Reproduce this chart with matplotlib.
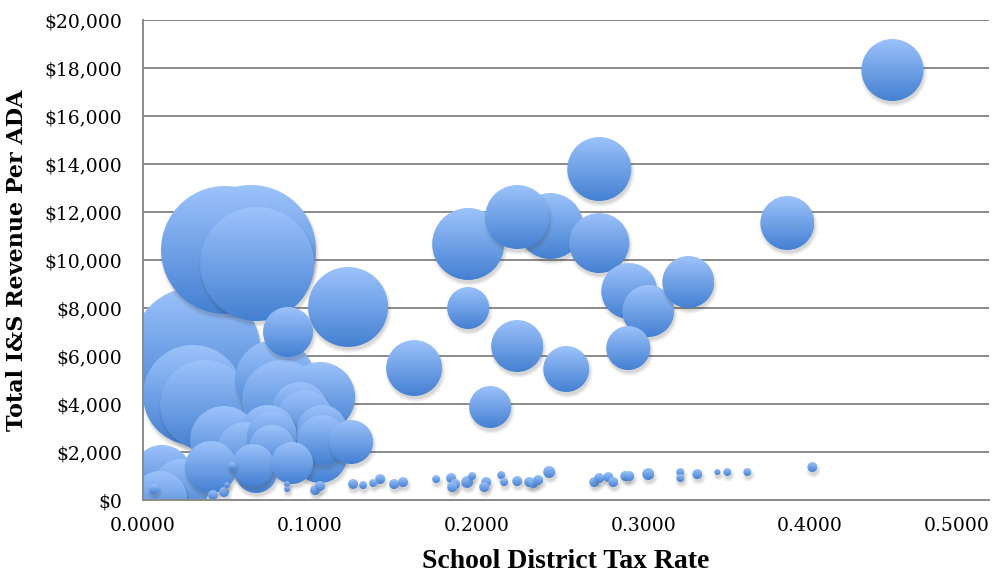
import numpy as np
import matplotlib
matplotlib.use("Agg")
from matplotlib import pyplot as plt
from matplotlib.patches import Circle
from matplotlib.colors import LinearSegmentedColormap
from matplotlib.ticker import StrMethodFormatter
from matplotlib.transforms import ScaledTranslation

# tax rate, I&S revenue per ADA, bubble size (ADA)
tax_rate = [
    0.0492, 0.0648, 0.0684, 0.1230, 0.0870, 0.0318, 0.0300, 0.0372, 0.0792, 0.0834,
    0.1062, 0.0942, 0.0972, 0.0486, 0.0750, 0.0612, 0.0774, 0.0774, 0.1074, 0.1074,
    0.1062, 0.1248, 0.0114, 0.0228, 0.0102, 0.0408, 0.0678, 0.0660, 0.0894,
    0.0066, 0.0534, 0.0420, 0.0486, 0.0504, 0.0864, 0.0864, 0.1032, 0.1062, 0.1260,
    0.1320, 0.1380, 0.1422, 0.1506, 0.1560, 0.1758, 0.1848, 0.1872, 0.1854, 0.1944,
    0.1974, 0.2058, 0.2046, 0.2148, 0.2166, 0.2244, 0.2316, 0.2340, 0.2370, 0.2436,
    0.2706, 0.2736, 0.2790, 0.2820, 0.2892, 0.2916, 0.3030, 0.3222, 0.3222, 0.3324,
    0.3444, 0.3504, 0.3624, 0.4014,
    0.2736, 0.2244, 0.2442, 0.1950, 0.2736, 0.2916, 0.3030, 0.3270, 0.1950, 0.2244,
    0.2538, 0.2910, 0.1626, 0.2082, 0.4494, 0.3864,
]
revenue = [
    10417, 10417, 9833, 8042, 7000, 6167, 4375, 3958, 5000, 4167,
    4292, 3750, 3417, 2500, 2792, 2083, 2667, 2167, 2917, 2500,
    1833, 2417, 1042, 542, 83, 1375, 1167, 1458, 1542,
    458, 1417, 208, 333, 625, 667, 458, 417, 583, 667,
    625, 708, 875, 667, 750, 875, 917, 667, 542, 750,
    1000, 750, 542, 1042, 750, 792, 750, 708, 833, 1167,
    750, 917, 958, 750, 1000, 1000, 1083, 1167, 917, 1083,
    1167, 1167, 1167, 1375,
    13792, 11792, 11417, 10667, 10708, 8708, 7875, 9083, 8000, 6417,
    5458, 6333, 5500, 3875, 17917, 11542,
]
ada = [
    43630, 45000, 34600, 17040, 6660, 45000, 26630, 21570, 17040, 17040,
    13050, 8350, 8350, 12310, 8350, 8350, 6660, 5630, 6660, 6660,
    7760, 5160, 9590, 8350, 7760, 7200, 4700, 4700, 4700,
    266, 170, 266, 266, 96, 96, 96, 266, 266, 266,
    170, 170, 266, 266, 266, 170, 266, 266, 266, 383,
    170, 266, 266, 170, 170, 266, 266, 266, 266, 383,
    266, 266, 266, 266, 266, 266, 383, 170, 170, 266,
    96, 170, 170, 266,
    10910, 10910, 11600, 13800, 9590, 8350, 7200, 7200, 4700, 7200,
    5630, 5160, 8350, 4700, 10240, 7760,
]

fig = plt.figure(figsize=(9.93, 5.76), dpi=100)
ax = fig.add_axes([143 / 993, 76 / 576, 846 / 993, 480 / 576])
ax.set_xlim(0, 0.5073)
ax.set_ylim(0, 20000)

# gridlines / axes
ax.set_yticks(np.arange(0, 20001, 2000))
ax.set_xticks(np.arange(0, 0.51, 0.1))
ax.yaxis.grid(True, color="#8a8a8a", lw=1.4)
ax.set_axisbelow(True)
for s in ["top", "right"]:
    ax.spines[s].set_visible(False)
for s in ["left", "bottom"]:
    ax.spines[s].set_color("#8a8a8a")
    ax.spines[s].set_linewidth(1.4)
ax.tick_params(length=0)
ax.tick_params(axis="y", pad=15)
ax.tick_params(axis="x", pad=12)
ax.yaxis.set_major_formatter(StrMethodFormatter("${x:,.0f}"))
ax.xaxis.set_major_formatter(StrMethodFormatter("{x:.4f}"))
for lab in ax.get_xticklabels() + ax.get_yticklabels():
    lab.set_fontfamily("DejaVu Serif")
    lab.set_fontsize(13.5)
last = ax.get_xticklabels()[-1]
last.set_transform(last.get_transform() + ScaledTranslation(-0.2, 0, fig.dpi_scale_trans))

ax.set_ylabel("Total I&S Revenue Per ADA", family="DejaVu Serif", weight="bold",
              fontsize=16, labelpad=12)
ax.set_xlabel("School District Tax Rate", family="Liberation Serif", weight="bold",
              fontsize=20, labelpad=10)

# bubbles: gradient fill clipped to circles, soft shadow underneath
cmap = LinearSegmentedColormap.from_list("bub", ["#4480d2", "#9dc3fb"])
grad = np.linspace(0, 1, 256).reshape(-1, 1)
RMAX = 0.65  # inches for the largest bubble
vmax = max(ada)
order = np.argsort(-np.array(ada), kind="stable")
for i in order:
    r = RMAX * np.sqrt(ada[i] / vmax)
    tr = fig.dpi_scale_trans + ScaledTranslation(tax_rate[i], revenue[i], ax.transData)
    for dr, a in [(0.035, 0.04), (0.025, 0.05), (0.015, 0.06), (0.005, 0.07)]:
        ax.add_patch(Circle((0.012, -0.035), r + dr - 0.01, transform=tr,
                            facecolor="#404040", edgecolor="none", alpha=a, zorder=2))
    circ = Circle((0, 0), r, transform=tr, facecolor="none", edgecolor="none", zorder=2)
    ax.add_patch(circ)
    im = ax.imshow(grad, cmap=cmap, extent=[-r, r, -r, r], origin="lower",
                   transform=tr, aspect="auto", interpolation="bilinear", zorder=2)
    im.set_clip_path(circ)

ax.set_xlim(0, 0.5073)
ax.set_ylim(0, 20000)

fig.savefig("out.png", dpi=100)
